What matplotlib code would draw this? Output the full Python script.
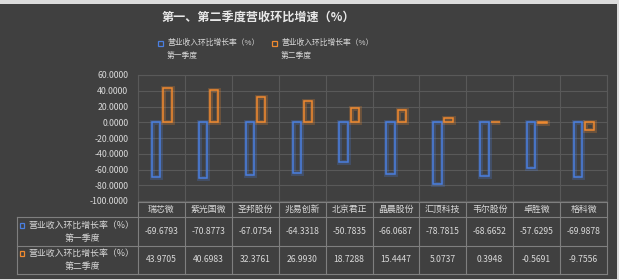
import matplotlib
matplotlib.use('Agg')
from matplotlib import pyplot as plt
from matplotlib import patheffects
from matplotlib.patches import Rectangle
import numpy as np

plt.rcParams['font.family'] = ['Noto Sans CJK SC', 'DejaVu Sans']

TITLE = '第一、第二季度营收环比增速（%）'
COMPANIES = ['瑞芯微', '紫光国微', '圣邦股份', '兆易创新', '北京君正',
             '晶晨股份', '汇顶科技', '韦尔股份', '卓胜微', '格科微']
SERIES_NAMES = ['营业收入环比增长率（%）\n第一季度', '营业收入环比增长率（%）\n第二季度']
Q1 = [-69.6793, -70.8773, -67.0754, -64.3318, -50.7835,
      -66.0687, -78.7815, -68.6652, -57.6295, -69.9878]
Q2 = [43.9705, 40.6983, 32.3761, 26.9930, 18.7288,
      15.4447, 5.0737, 0.3948, -0.5691, -9.7556]
YTICKS = [-100, -80, -60, -40, -20, 0, 20, 40, 60]

BG = '#404040'
TXT = '#d9d9d9'
GRID = '#595959'
BORDER = '#7f7f7f'
BLUE = '#4a7fe0'
ORANGE = '#f08a30'

W, H = 619, 280
fig = plt.figure(figsize=(W / 100, H / 100), dpi=100, facecolor='#dcdcdc')
fig.patches.append(Rectangle((0, 1 / H), 617 / W, 275 / H, transform=fig.transFigure,
                             facecolor=BG, edgecolor='none', zorder=-10))

def fx(px):
  return px / W

def fy(py):
  return 1 - py / H

# plot area
L, R, T, B = 138, 607, 75, 201
ax = fig.add_axes([fx(L), fy(B), fx(R - L), (B - T) / H])
ax.set_facecolor('none')
ax.set_xlim(-0.5, len(COMPANIES) - 0.5)
ax.set_ylim(-100, 60)
ax.set_yticks(YTICKS)
ax.set_yticklabels(['{:.4f}'.format(v) for v in YTICKS], color=TXT, fontsize=6.3)
ax.set_xticks([])
ax.set_xticks(np.arange(len(COMPANIES) + 1) - 0.5, minor=True)
ax.tick_params(axis='both', which='both', length=0, pad=7)
ax.grid(True, axis='y', which='major', color=GRID, linewidth=0.8)
ax.grid(True, axis='x', which='minor', color=GRID, linewidth=0.8)
ax.set_axisbelow(True)
for s in ax.spines.values():
  s.set_color(GRID)
  s.set_linewidth(0.8)

x = np.arange(len(COMPANIES))
bw = 0.18
for vals, off, col in [(Q1, -0.115, BLUE), (Q2, 0.125, ORANGE)]:
  bars = ax.bar(x + off, vals, width=bw, facecolor='none', edgecolor=col, linewidth=1.1)
  for b in bars:
    b.set_path_effects([patheffects.Stroke(linewidth=3.5, foreground=col, alpha=0.25),
                        patheffects.Normal()])

# title and legend
fig.text(fx(258), fy(17), TITLE, color='#e8e8e8', fontsize=8.7, fontweight='bold',
         ha='center', va='center')
for name, col, lx in [(SERIES_NAMES[0], BLUE, 161), (SERIES_NAMES[1], ORANGE, 275)]:
  line1, line2 = name.split('\n')
  fig.patches.append(Rectangle((fx(lx - 3), fy(46)), fx(5), 5 / H, transform=fig.transFigure,
                               facecolor='none', edgecolor=col, linewidth=0.9))
  fig.text(fx(lx + 6), fy(43), line1, color=TXT, fontsize=5.6, ha='left', va='center')
  fig.text(fx(lx + 6), fy(56), line2, color=TXT, fontsize=5.6, ha='left', va='center')

# data table
TL, TT, TB = 17, 202, 274
ROW_Y = [202, 217, 246, 274]
colw = (R - L) / len(COMPANIES)
xl = -0.5 - (L - TL) / colw
tx = fig.add_axes([fx(TL), fy(TB), fx(R - TL), (TB - TT) / H])
tx.set_xlim(xl, len(COMPANIES) - 0.5)
tx.set_ylim(TB, TT)
tx.axis('off')
xr = len(COMPANIES) - 0.5
lk = dict(color=BORDER, linewidth=0.8, clip_on=False)
tx.plot([-0.5, xr], [ROW_Y[0]] * 2, **lk)
for yy in ROW_Y[1:]:
  tx.plot([xl, xr], [yy] * 2, **lk)
for k in range(len(COMPANIES) + 1):
  tx.plot([k - 0.5] * 2, [ROW_Y[0], ROW_Y[-1]], **lk)
tx.plot([xl] * 2, [ROW_Y[1], ROW_Y[-1]], **lk)

for i, c in enumerate(COMPANIES):
  tx.text(i, (ROW_Y[0] + ROW_Y[1]) / 2, c, color=TXT, fontsize=6.4, ha='center', va='center')
for r, (vals, name, col) in enumerate([(Q1, SERIES_NAMES[0], BLUE), (Q2, SERIES_NAMES[1], ORANGE)]):
  yc = (ROW_Y[r + 1] + ROW_Y[r + 2]) / 2
  for i, v in enumerate(vals):
    tx.text(i, yc, '{:.4f}'.format(v), color=TXT, fontsize=6.2, ha='center', va='center')
  line1, line2 = name.split('\n')
  lx0 = xl + (28 - TL) / colw
  tx.text(lx0, yc - 6.5, line1, color=TXT, fontsize=6.4, ha='left', va='center')
  tx.text(xl + (82 - TL) / colw, yc + 6.5, line2, color=TXT, fontsize=6.4, ha='center', va='center')
  tx.add_patch(Rectangle((xl + (20 - TL) / colw, yc - 6.5 + 2.5), 4.5 / colw, -5,
                         facecolor='none', edgecolor=col, linewidth=0.9))

fig.savefig('out.png', dpi=100, facecolor=fig.get_facecolor())
